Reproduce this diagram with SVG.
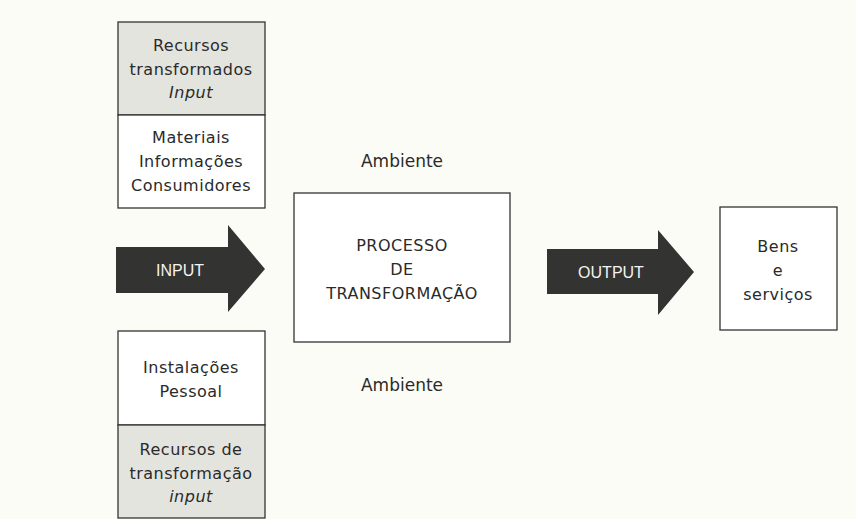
<svg xmlns="http://www.w3.org/2000/svg" width="856" height="519" viewBox="0 0 856 519">
<style>
.box{fill:#ffffff;stroke:#333;stroke-width:1.3}
.shade{fill:#e4e4de;stroke:#333;stroke-width:1.3}
.arrow{fill:#333331}
text{font-family:"DejaVu Sans","Liberation Sans",Arial,sans-serif;font-size:16px;fill:#2a2a2a;text-anchor:middle;letter-spacing:0.5px}
.w{fill:#f4f4f0;font-family:"Liberation Sans",Arial,sans-serif;font-size:16px;letter-spacing:0}
.it{font-style:italic}
.amb{font-size:17px;letter-spacing:0}
</style>
<rect x="0" y="0" width="856" height="519" fill="#fcfcf7"/>
<g id="recursos-transformados">
<rect class="shade" x="118" y="22" width="147" height="93"/>
<rect class="box" x="118" y="115" width="147" height="93"/>
<text x="191" y="51">Recursos</text>
<text x="191" y="75">transformados</text>
<text class="it" x="191" y="98">Input</text>
<text x="191" y="143">Materiais</text>
<text x="191" y="167">Informações</text>
<text x="191" y="191">Consumidores</text>
</g>
<g id="recursos-transformacao">
<rect class="box" x="118" y="331" width="147" height="94"/>
<rect class="shade" x="118" y="425" width="147" height="93"/>
<text x="191" y="373">Instalações</text>
<text x="191" y="397">Pessoal</text>
<text x="191" y="455">Recursos de</text>
<text x="191" y="479">transformação</text>
<text class="it" x="191" y="502">input</text>
</g>
<g id="processo">
<rect class="box" x="294" y="193" width="216" height="149"/>
<text x="402" y="251">PROCESSO</text>
<text x="402" y="275">DE</text>
<text x="402" y="299">TRANSFORMAÇÃO</text>
</g>
<g id="ambiente-top"><text class="amb" x="402" y="167">Ambiente</text></g>
<g id="ambiente-bottom"><text class="amb" x="402" y="391">Ambiente</text></g>
<g id="bens">
<rect class="box" x="720" y="207" width="117" height="123"/>
<text x="778" y="252">Bens</text>
<text x="778" y="276">e</text>
<text x="778" y="300">serviços</text>
</g>
<g id="connectors">
<g id="input-arrow">
<polygon class="arrow" points="116,247 228,247 228,225 265,269 228,312 228,293 116,293"/>
<text class="w" x="180" y="276">INPUT</text>
</g>
<g id="output-arrow">
<polygon class="arrow" points="547,249 658,249 658,230 694,272 658,315 658,294 547,294"/>
<text class="w" x="611" y="278">OUTPUT</text>
</g>
</g>
</svg>
